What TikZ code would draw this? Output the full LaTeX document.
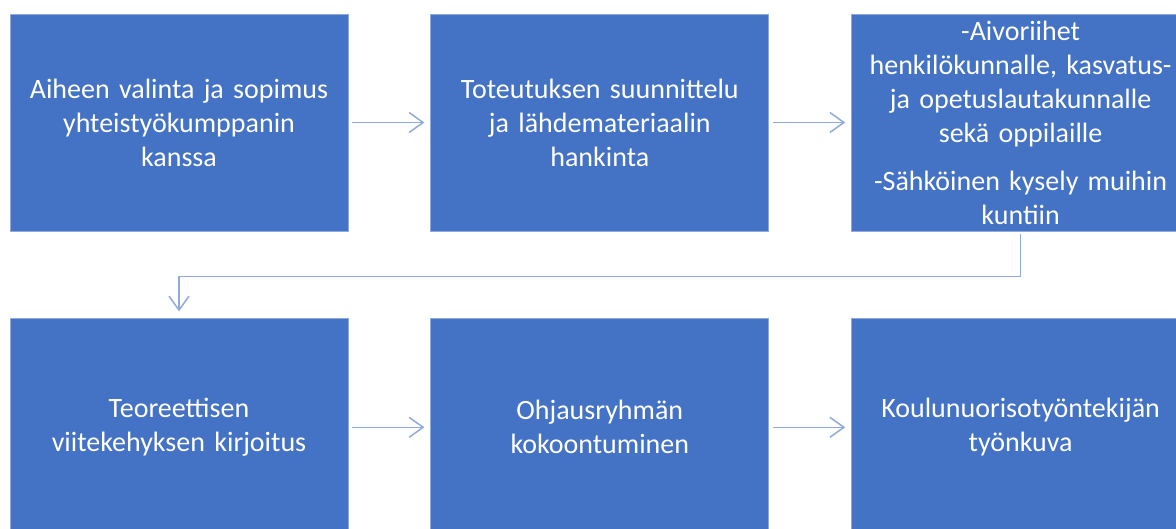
\documentclass[tikz,border=0pt]{standalone}
\usepackage{fontspec}
\setmainfont{Carlito}
\usepackage{xcolor}
\usepackage{tikz}
\usetikzlibrary{shapes,arrows.meta,positioning}
\definecolor{boxblue}{RGB}{68,114,196}
\definecolor{lineblue}{RGB}{143,170,220}

\begin{document}
\begin{tikzpicture}[node distance=82pt, auto]
    \tikzstyle{block} = [rectangle, draw=lineblue, line width=0.8pt, fill=boxblue, text=white, text width=334pt, align=center, minimum width=338pt, minimum height=217pt, inner sep=0pt, font=\fontsize{28}{34}\selectfont]
    \tikzstyle{arrow} = [line width=1.5pt, draw=lineblue, -{Straight Barb[length=14pt,width=20pt]}]

    \useasboundingbox (0,0) rectangle (1176pt,-528pt);

    \node [block] (topic) at (179pt,-122.5pt) {Aiheen valinta ja sopimus\\yhteistyökumppanin\\kanssa};
    \node [block, right=of topic] (plan) {Toteutuksen suunnittelu\\ja lähdemateriaalin\\hankinta};
    \node [block, right=of plan] (ideas) {-Aivoriihet\\henkilökunnalle, kasvatus-\\ja opetuslautakunnalle\\sekä oppilaille\\[14pt]-Sähköinen kysely muihin\\kuntiin};
    \node [block, below=87pt of topic] (theory) {Teoreettisen\\viitekehyksen kirjoitus};
    \node [block, right=of theory] (group) {Ohjausryhmän\\kokoontuminen};
    \node [block, right=of group] (job) {Koulunuorisotyöntekijän\\työnkuva};

    \draw [arrow, shorten <=4pt, shorten >=6pt] (topic) -- (plan);
    \draw [arrow, shorten <=4pt, shorten >=6pt] (plan) -- (ideas);
    \draw [arrow, shorten <=3pt, shorten >=7pt] (ideas.south) -- ++(0,-45pt) -| (theory.north);
    \draw [arrow, shorten <=4pt, shorten >=6pt] (theory) -- (group);
    \draw [arrow, shorten <=4pt, shorten >=6pt] (group) -- (job);
\end{tikzpicture}
\end{document}
